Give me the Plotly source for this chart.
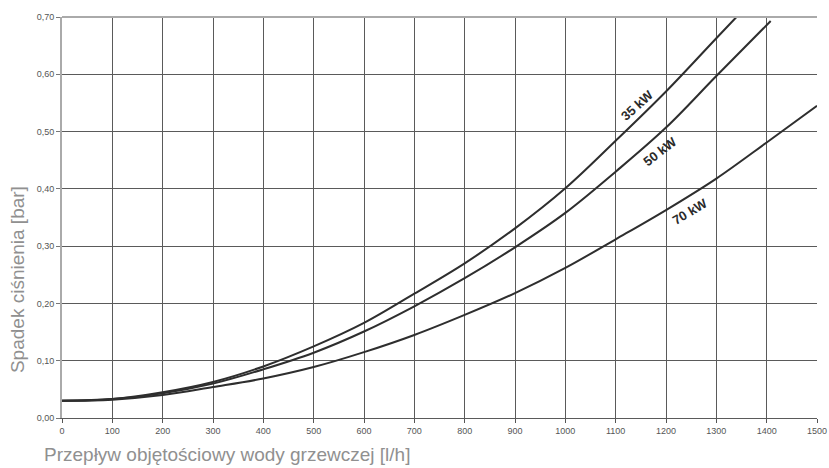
import plotly.graph_objects as go

flow = [0, 100, 200, 300, 400, 500, 600, 700, 800, 900, 1000, 1100, 1200, 1300]
kw35 = [0.030, 0.033, 0.045, 0.063, 0.090, 0.125, 0.166, 0.217, 0.270, 0.331, 0.401, 0.484, 0.570, 0.663]
kw35_end_x = [1340]
kw35_end_y = [0.700]

flow50 = [0, 100, 200, 300, 400, 500, 600, 700, 800, 900, 1000, 1100, 1200, 1300, 1408]
kw50 = [0.030, 0.033, 0.043, 0.060, 0.085, 0.114, 0.151, 0.195, 0.244, 0.298, 0.358, 0.430, 0.507, 0.597, 0.693]

flow70 = [0, 100, 200, 300, 400, 500, 600, 700, 800, 900, 1000, 1100, 1200, 1300, 1400, 1500]
kw70 = [0.030, 0.032, 0.040, 0.054, 0.069, 0.089, 0.115, 0.145, 0.180, 0.218, 0.262, 0.312, 0.363, 0.418, 0.481, 0.545]

x_ticks = list(range(0, 1501, 100))
y_ticks = [0.0, 0.1, 0.2, 0.3, 0.4, 0.5, 0.6, 0.7]
y_ticktext = ["0,00", "0,10", "0,20", "0,30", "0,40", "0,50", "0,60", "0,70"]

labels = ["35 kW", "50 kW", "70 kW"]
label_x = [1142, 1188, 1248]
label_y = [0.546, 0.465, 0.360]
label_angle = [-42, -38, -31]

line_color = "#2e2e2e"
fig = go.Figure()
fig.add_trace(go.Scatter(x=flow + kw35_end_x, y=kw35 + kw35_end_y, mode="lines",
                         line=dict(color=line_color, width=2, shape="spline"), showlegend=False))
fig.add_trace(go.Scatter(x=flow50, y=kw50, mode="lines",
                         line=dict(color=line_color, width=2, shape="spline"), showlegend=False))
fig.add_trace(go.Scatter(x=flow70, y=kw70, mode="lines",
                         line=dict(color=line_color, width=2, shape="spline"), showlegend=False))

for t, lx, ly, a in zip(labels, label_x, label_y, label_angle):
    fig.add_annotation(x=lx, y=ly, text="<b>" + t + "</b>", showarrow=False, textangle=a,
                       font=dict(family="Liberation Sans, Arial", size=13, color="#2a2a2a"))

fig.add_annotation(xref="paper", yref="paper", x=-0.0596, y=0.344, text="Spadek ciśnienia [bar]",
                   showarrow=False, textangle=-90, xanchor="center", yanchor="middle",
                   font=dict(family="Liberation Sans, Arial", size=19, color="#909090"))
fig.add_annotation(xref="paper", yref="paper", x=-0.026, y=-0.092,
                   text="Przepływ objętościowy wody grzewczej [l/h]",
                   showarrow=False, xanchor="left", yanchor="middle",
                   font=dict(family="Liberation Sans, Arial", size=19, color="#909090"))

fig.update_xaxes(range=[0, 1500], tickvals=x_ticks, ticks="outside", ticklen=4, tickcolor="#555",
                 showgrid=True, gridcolor="#5a5a5a", gridwidth=1, automargin=False,
                 showline=True, linecolor="#5a5a5a", linewidth=1, mirror=False,
                 tickfont=dict(family="Liberation Sans, Arial", size=9, color="#555"), zeroline=False)
fig.update_yaxes(range=[0, 0.7], tickvals=y_ticks, ticktext=y_ticktext, ticks="outside", ticklen=4,
                 tickcolor="#777", showgrid=True, gridcolor="#5a5a5a", gridwidth=1, automargin=False,
                 showline=True, linecolor="#aaaaaa", linewidth=2,
                 tickfont=dict(family="Liberation Sans, Arial", size=9, color="#555"), zeroline=False)

fig.add_shape(type="line", xref="paper", yref="paper", x0=0, x1=1, y0=1, y1=1,
              line=dict(color="#aaaaaa", width=2))

fig.update_layout(width=829, height=468, margin=dict(l=62, r=12, t=17, b=50, autoexpand=False),
                  plot_bgcolor="white", paper_bgcolor="white")

fig.write_html("out.html")
